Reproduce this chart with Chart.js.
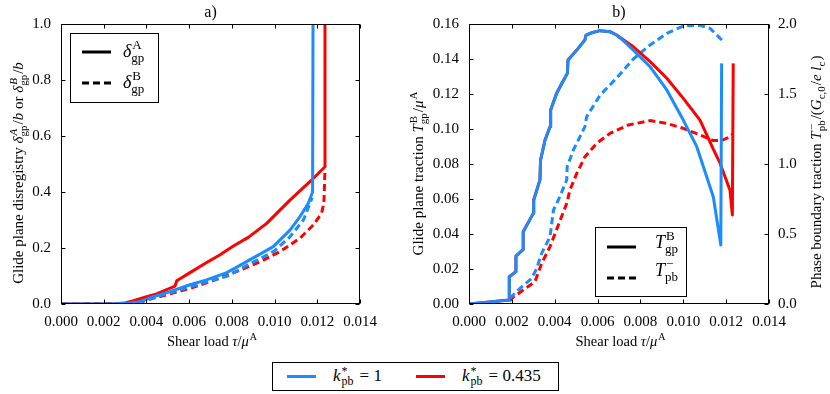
<!DOCTYPE html>
<html><head><meta charset="utf-8">
<script src="https://cdn.jsdelivr.net/npm/chart.js@4/dist/chart.umd.min.js"></script>
<style>
html,body{margin:0;padding:0;background:#fff;width:830px;height:394px;overflow:hidden;}
#c1{position:absolute;left:0;top:0;}
#c2{position:absolute;left:400px;top:0;}
#leg{position:absolute;left:272px;top:362px;width:287px;height:29px;border:1px solid #000;box-sizing:border-box;font-family:"Liberation Serif","DejaVu Serif",serif;font-size:17px;color:#000;}
.ln{position:absolute;top:12px;width:29px;height:3px}
.tx{position:absolute;top:3px;white-space:nowrap;line-height:20px}
.ss{display:inline-block;position:relative;width:19px;height:10px}
.sp,.sb{position:absolute;left:1px;font-size:12px;line-height:1}
.sp{top:-6px}.sb{top:4px}
</style></head>
<body>
<canvas id="c1" width="400" height="350"></canvas>
<canvas id="c2" width="430" height="350"></canvas>
<div id="leg">
 <div class="ln" style="left:14px;background:#1a8cff"></div>
 <div class="tx" style="left:60px"><i>k</i><span class="ss"><span class="sp">*</span><span class="sb">pb</span></span>= 1</div>
 <div class="ln" style="left:143px;background:#ff0000"></div>
 <div class="tx" style="left:189px"><i>k</i><span class="ss"><span class="sp">*</span><span class="sb">pb</span></span>= 0.435</div>
</div>
<script>
// ---------- data: panel a) glide plane disregistry ----------
const aBlueAx = [0, 0.0025, 0.0032, 0.0037, 0.00432, 0.0051, 0.006, 0.00682, 0.00776, 0.00838, 0.00877, 0.00932, 0.00994, 0.01072, 0.01119, 0.01158, 0.01178, 0.0118];
const aBlueAy = [0, 0.001, 0.004, 0.008, 0.026, 0.044, 0.068, 0.086, 0.112, 0.138, 0.155, 0.178, 0.205, 0.264, 0.312, 0.36, 0.40, 1.0];
const aRedAx = [0, 0.0025, 0.0030, 0.00339, 0.00401, 0.00448, 0.00534, 0.00542, 0.00604, 0.00682, 0.00745, 0.00807, 0.00877, 0.00963, 0.01072, 0.01174, 0.01236, 0.01236];
const aRedAy = [0, 0.001, 0.004, 0.012, 0.026, 0.036, 0.064, 0.083, 0.112, 0.148, 0.176, 0.207, 0.238, 0.288, 0.371, 0.443, 0.49, 1.0];
const aBlueBx = [0, 0.0025, 0.0032, 0.0037, 0.0043, 0.0051, 0.006, 0.0068, 0.0078, 0.0088, 0.0094, 0.0100, 0.01072, 0.01135, 0.01166, 0.01176];
const aBlueBy = [0, 0.001, 0.003, 0.007, 0.022, 0.040, 0.060, 0.078, 0.100, 0.142, 0.165, 0.190, 0.240, 0.300, 0.360, 0.380];
const aRedBx = [0, 0.0025, 0.0032, 0.0037, 0.0043, 0.0051, 0.006, 0.00729, 0.00838, 0.00932, 0.01025, 0.01119, 0.01181, 0.0122, 0.01231, 0.01236];
const aRedBy = [0, 0.001, 0.003, 0.007, 0.020, 0.036, 0.055, 0.088, 0.121, 0.151, 0.187, 0.235, 0.282, 0.324, 0.360, 0.479];

// ---------- data: panel b) tractions ----------
const bBlueTx = [0, 0.00188, 0.00188, 0.00219, 0.00219, 0.00253, 0.00253, 0.0030, 0.00302, 0.00331, 0.00334, 0.00355, 0.00378, 0.00381, 0.00409, 0.00433, 0.00459, 0.00462, 0.00503, 0.00541, 0.00546, 0.00573, 0.00611, 0.00658, 0.00689, 0.0072, 0.00767, 0.00845, 0.00923, 0.0100, 0.01063, 0.0114, 0.01175, 0.01179];
const bBlueTy = [0, 0.0023, 0.0156, 0.0185, 0.0274, 0.0312, 0.0413, 0.0518, 0.0594, 0.0709, 0.0823, 0.0937, 0.1013, 0.1109, 0.1204, 0.126, 0.1318, 0.1394, 0.1451, 0.1509, 0.1537, 0.155, 0.1562, 0.1556, 0.1537, 0.1505, 0.1451, 0.1356, 0.1223, 0.1051, 0.0899, 0.0613, 0.0337, 0.1375];
const bRedTx = [0, 0.00188, 0.00188, 0.00219, 0.00219, 0.00253, 0.00253, 0.0030, 0.00302, 0.00331, 0.00334, 0.00355, 0.00378, 0.00381, 0.00409, 0.00433, 0.00459, 0.00462, 0.00503, 0.00541, 0.00546, 0.00573, 0.00611, 0.00658, 0.00689, 0.0072, 0.00767, 0.00845, 0.00923, 0.0100, 0.01078, 0.0114, 0.01171, 0.01218, 0.01229, 0.01233];
const bRedTy = [0, 0.0023, 0.0156, 0.0185, 0.0274, 0.0312, 0.0413, 0.0518, 0.0594, 0.0709, 0.0823, 0.0937, 0.1013, 0.1109, 0.1204, 0.126, 0.1318, 0.1394, 0.1451, 0.1509, 0.1537, 0.155, 0.1562, 0.1556, 0.1537, 0.151, 0.147, 0.1385, 0.129, 0.1175, 0.1051, 0.0885, 0.0806, 0.065, 0.0509, 0.1375];
const bBluePx = [0.0019, 0.00238, 0.00293, 0.00316, 0.00339, 0.00378, 0.00394, 0.00417, 0.00456, 0.00458, 0.00487, 0.00518, 0.00541, 0.00549, 0.00611, 0.00689, 0.00767, 0.00845, 0.00923, 0.0100, 0.01078, 0.01125, 0.01156, 0.01184];
const bBluePy = [0.04, 0.112, 0.183, 0.255, 0.362, 0.48, 0.67, 0.743, 0.886, 0.98, 1.10, 1.195, 1.267, 1.338, 1.49, 1.615, 1.75, 1.85, 1.933, 1.986, 1.99, 1.969, 1.921, 1.88];
const bRedPx = [0.0019, 0.00199, 0.00253, 0.00308, 0.00339, 0.00378, 0.00417, 0.00456, 0.00471, 0.00503, 0.00541, 0.00596, 0.00658, 0.00744, 0.00845, 0.00923, 0.0100, 0.01078, 0.0114, 0.01179, 0.01218, 0.01233];
const bRedPy = [0.02, 0.04, 0.10, 0.16, 0.29, 0.41, 0.564, 0.719, 0.814, 0.933, 1.052, 1.148, 1.219, 1.279, 1.31, 1.29, 1.255, 1.207, 1.167, 1.167, 1.195, 1.219];

// ---------- axis ticks ----------
const xTicks = [0, 0.002, 0.004, 0.006, 0.008, 0.010, 0.012, 0.014];
const aYTicks = [0, 0.2, 0.4, 0.6, 0.8, 1.0];
const bYTicks = [0, 0.02, 0.04, 0.06, 0.08, 0.10, 0.12, 0.14, 0.16];
const bY2Ticks = [0, 0.5, 1.0, 1.5, 2.0];

const BLUE = '#1a8cff', RED = '#ff0000';
const FONT = '"Liberation Serif", "DejaVu Serif", serif';
const DASH = [7, 4];

function pts(xs, ys) { return xs.map((x, i) => ({ x: x, y: ys[i] })); }

function richLayout(ctx, segs, size) {
  const ss = Math.round(size * 0.7);
  let total = 0; const parts = [];
  for (const s of segs) {
    ctx.font = (s.it ? 'italic ' : '') + size + 'px ' + FONT;
    const w = ctx.measureText(s.t).width;
    let wsup = 0, wsub = 0;
    if (s.sup) { ctx.font = (s.supIt ? 'italic ' : '') + ss + 'px ' + FONT; wsup = ctx.measureText(s.sup).width + (s.it ? 1 : 0); }
    if (s.sub) { ctx.font = (s.subIt ? 'italic ' : '') + ss + 'px ' + FONT; wsub = ctx.measureText(s.sub).width; }
    const extra = (s.sup || s.sub) ? Math.max(wsup, wsub) + 1 : 0;
    parts.push({ s, w, extra }); total += w + extra;
  }
  return { parts, total, ss };
}
function drawRich(ctx, segs, x, y, size, align) {
  const L = richLayout(ctx, segs, size);
  let cx = align === 'center' ? x - L.total / 2 : (align === 'right' ? x - L.total : x);
  ctx.textAlign = 'left'; ctx.textBaseline = 'alphabetic'; ctx.fillStyle = '#000';
  for (const p of L.parts) {
    const s = p.s;
    ctx.font = (s.it ? 'italic ' : '') + size + 'px ' + FONT;
    ctx.fillText(s.t, cx, y);
    const bx = cx + p.w;
    if (s.sup) { ctx.font = (s.supIt ? 'italic ' : '') + L.ss + 'px ' + FONT; ctx.fillText(s.sup, bx + (s.it ? 1 : 0), y - size * 0.42); }
    if (s.sub) { ctx.font = (s.subIt ? 'italic ' : '') + L.ss + 'px ' + FONT; ctx.fillText(s.sub, bx, y + size * 0.25); }
    cx += p.w + p.extra;
  }
}
function drawRichV(ctx, segs, x, y, size) {
  ctx.save(); ctx.translate(x, y); ctx.rotate(-Math.PI / 2);
  drawRich(ctx, segs, 0, 0, size, 'center'); ctx.restore();
}
function hline(ctx, x1, y1, x2, y2) { ctx.beginPath(); ctx.moveTo(x1, y1); ctx.lineTo(x2, y2); ctx.stroke(); }

function makePlugin(cfg) {
  return {
    id: 'deco',
    afterDraw(chart) {
      const ctx = chart.ctx, a = chart.chartArea;
      const L = Math.round(a.left) + 0.5, R = Math.round(a.right) - 0.5, T = Math.round(a.top) + 0.5, B = Math.round(a.bottom) - 0.5;
      ctx.save();
      ctx.strokeStyle = '#000'; ctx.lineWidth = 1; ctx.setLineDash([]);
      ctx.strokeRect(L, T, R - L, B - T);
      const xs = chart.scales.x, ys = chart.scales.y, rs = chart.scales[cfg.rightScale];
      xs.ticks.forEach(t => { const p = Math.round(xs.getPixelForValue(t.value)) + 0.5; hline(ctx, p, B, p, B - 4); hline(ctx, p, T, p, T + 4); });
      ys.ticks.forEach(t => { const p = Math.round(ys.getPixelForValue(t.value)) + 0.5; hline(ctx, L, p, L + 4, p); });
      rs.ticks.forEach(t => { const p = Math.round(rs.getPixelForValue(t.value)) + 0.5; hline(ctx, R, p, R - 4, p); });
      // panel title
      ctx.fillStyle = '#000'; ctx.font = '16px ' + FONT; ctx.textAlign = 'center'; ctx.textBaseline = 'alphabetic';
      ctx.fillText(cfg.title, (a.left + a.right) / 2, 17);
      // axis labels
      drawRich(ctx, cfg.xlabel, (a.left + a.right) / 2 + 2, 346, 14.5, 'center');
      drawRichV(ctx, cfg.ylabel, cfg.ylabelX, 173, 15);
      if (cfg.y2label) drawRichV(ctx, cfg.y2label, cfg.y2labelX, 172, 15);
      // legend
      const g = cfg.legend;
      ctx.strokeStyle = '#000'; ctx.lineWidth = 1;
      ctx.strokeRect(g.x + 0.5, g.y + 0.5, g.w, g.h);
      ctx.lineWidth = 3;
      g.items.forEach(it => {
        ctx.setLineDash(it.dash ? DASH : []);
        hline(ctx, g.lx, it.ly, g.lx + 29, it.ly);
        ctx.setLineDash([]);
        drawRich(ctx, it.segs, g.tx, it.ty, 18, 'left');
      });
      ctx.restore();
    }
  };
}

function ds(label, xs, ys, color, dashed, axis) {
  const d = { label, data: pts(xs, ys), borderColor: color, backgroundColor: color, borderWidth: 3, pointRadius: 0, fill: false, tension: 0, borderDash: dashed ? DASH : [], borderJoinStyle: 'round' };
  if (axis) d.yAxisID = axis;
  return d;
}
function tickCfg(ticks, dec, pad) {
  return {
    min: ticks[0], max: ticks[ticks.length - 1],
    afterBuildTicks: s => { s.ticks = ticks.map(v => ({ value: v })); },
    ticks: { callback: v => Number(v).toFixed(dec), color: '#000', font: { family: FONT, size: 15 }, padding: pad, autoSkip: false, maxRotation: 0 },
    grid: { display: false, drawTicks: false }, border: { display: false }
  };
}
const xCfg = Object.assign({ type: 'linear', position: 'bottom', afterFit: s => { s.height = 46; } }, tickCfg(xTicks, 3, 9));

const xlab = [{ t: 'Shear load ' }, { t: 'τ', it: 1 }, { t: '/' }, { t: 'μ', it: 1, sup: 'A' }];

new Chart(document.getElementById('c1'), {
  type: 'line',
  data: { datasets: [
    ds('blue δA', aBlueAx, aBlueAy, BLUE, false),
    ds('red δA', aRedAx, aRedAy, RED, false),
    ds('blue δB', aBlueBx, aBlueBy, BLUE, true),
    ds('red δB', aRedBx, aRedBy, RED, true)
  ] },
  options: {
    responsive: false, animation: false, devicePixelRatio: 1,
    layout: { padding: { left: 0, right: 40, top: 24, bottom: 0 } },
    plugins: { legend: { display: false }, tooltip: { enabled: false } },
    scales: {
      x: xCfg,
      y: Object.assign({ type: 'linear', position: 'left', afterFit: s => { s.width = 61; } }, tickCfg(aYTicks, 1, 10))
    }
  },
  plugins: [makePlugin({
    rightScale: 'y', title: 'a)', xlabel: xlab, ylabelX: 23,
    ylabel: [{ t: 'Glide plane disregistry ' }, { t: 'δ', it: 1, sup: 'A', supIt: 1, sub: 'gp' }, { t: '/' }, { t: 'b', it: 1 }, { t: ' or ' }, { t: 'δ', it: 1, sup: 'B', supIt: 1, sub: 'gp' }, { t: '/' }, { t: 'b', it: 1 }],
    legend: { x: 70, y: 33, w: 88, h: 69, lx: 82, tx: 123, items: [
      { ly: 52, ty: 57, dash: false, segs: [{ t: 'δ', it: 1, sup: 'A', sub: 'gp' }] },
      { ly: 83, ty: 88, dash: true, segs: [{ t: 'δ', it: 1, sup: 'B', sub: 'gp' }] }
    ] }
  })]
});

new Chart(document.getElementById('c2'), {
  type: 'line',
  data: { datasets: [
    ds('blue T_gp', bBlueTx, bBlueTy, BLUE, false, 'y'),
    ds('red T_gp', bRedTx, bRedTy, RED, false, 'y'),
    ds('blue T_pb', bBluePx, bBluePy, BLUE, true, 'y2'),
    ds('red T_pb', bRedPx, bRedPy, RED, true, 'y2')
  ] },
  options: {
    responsive: false, animation: false, devicePixelRatio: 1,
    layout: { padding: { left: 0, right: 0, top: 24, bottom: 0 } },
    plugins: { legend: { display: false }, tooltip: { enabled: false } },
    scales: {
      x: xCfg,
      y: Object.assign({ type: 'linear', position: 'left', afterFit: s => { s.width = 69; } }, tickCfg(bYTicks, 2, 10)),
      y2: Object.assign({ type: 'linear', position: 'right', afterFit: s => { s.width = 61; } }, tickCfg(bY2Ticks, 1, 9))
    }
  },
  plugins: [makePlugin({
    rightScale: 'y2', title: 'b)', xlabel: xlab, ylabelX: 23, y2labelX: 421,
    ylabel: [{ t: 'Glide plane traction ' }, { t: 'T', it: 1, sup: 'B', sub: 'gp' }, { t: '/' }, { t: 'μ', it: 1, sup: 'A' }],
    y2label: [{ t: 'Phase boundary traction ' }, { t: 'T', it: 1, sup: '−', sub: 'pb' }, { t: '/(' }, { t: 'G', it: 1, sub: 'c,0' }, { t: '/' }, { t: 'e', it: 1 }, { t: ' ' }, { t: 'l', it: 1, sub: 'c' }, { t: ')' }],
    legend: { x: 195, y: 227, w: 91, h: 69, lx: 207, tx: 255, items: [
      { ly: 247, ty: 248, dash: false, segs: [{ t: 'T', it: 1, sup: 'B', sub: 'gp' }] },
      { ly: 278, ty: 276, dash: true, segs: [{ t: 'T', it: 1, sup: '−', sub: 'pb' }] }
    ] }
  })]
});
</script>
</body></html>
